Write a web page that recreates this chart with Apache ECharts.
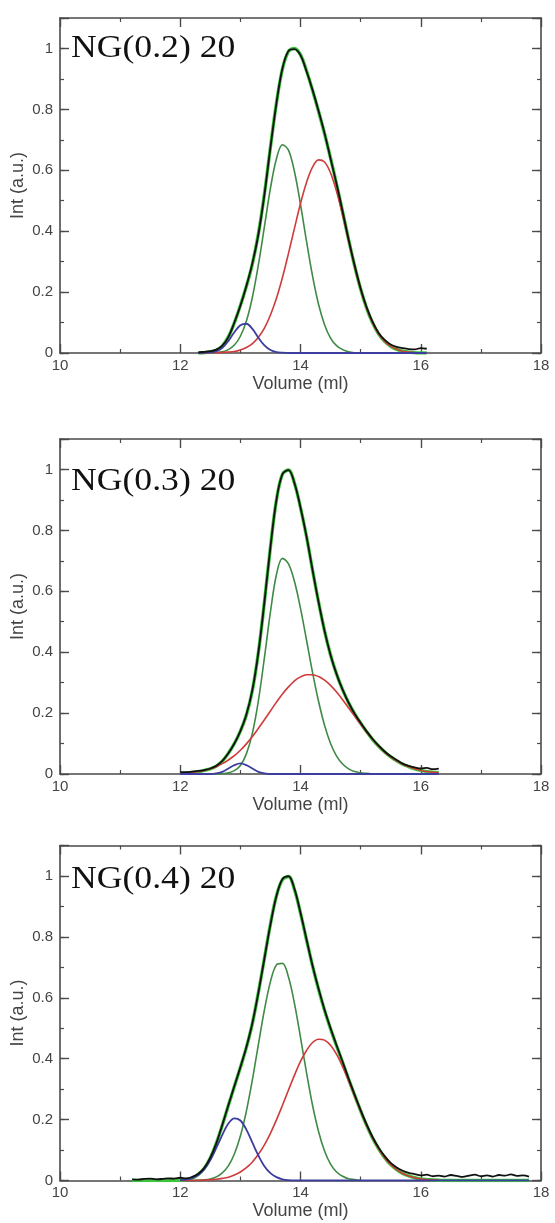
<!DOCTYPE html>
<html><head><meta charset="utf-8">
<script src="https://cdn.jsdelivr.net/npm/echarts@6/dist/echarts.min.js"></script>
<style>html,body{margin:0;padding:0;background:#fff}#c{width:555px;height:1223px}</style>
</head><body><div id="c"></div>
<script>
// ---------- DATA ----------
const panelLabels = ['NG(0.2) 20', 'NG(0.3) 20', 'NG(0.4) 20'];
const xLabelName = 'Volume (ml)';
const yLabelName = 'Int (a.u.)';

// Panel 1 : NG(0.2) 20
const vol1 = [12.3,12.4,12.5,12.6,12.7,12.8,12.9,13.0,13.1,13.2,13.3,13.4,13.5,13.6,13.7,13.8,13.9,14.0,14.1,14.2,14.3,14.4,14.5,14.6,14.7,14.8,14.9,15.0,15.1,15.2,15.3,15.4,15.5,15.6,15.7,15.8,15.9,16.0,16.1];
const data1 = [0.002,0.004,0.006,0.011,0.024,0.052,0.100,0.155,0.220,0.295,0.390,0.520,0.675,0.820,0.935,0.992,0.998,0.978,0.925,0.864,0.795,0.722,0.638,0.555,0.466,0.373,0.288,0.212,0.150,0.102,0.066,0.043,0.028,0.020,0.016,0.013,0.012,0.016,0.014];
const fit1  = [0,0.001,0.004,0.009,0.023,0.053,0.099,0.156,0.219,0.293,0.392,0.522,0.676,0.821,0.933,0.990,1.000,0.979,0.927,0.863,0.794,0.720,0.640,0.554,0.464,0.372,0.286,0.210,0.147,0.098,0.062,0.038,0.022,0.012,0.006,0.003,0.001,0,0];
const blue1 = [0,0.001,0.002,0.006,0.017,0.039,0.068,0.091,0.096,0.079,0.050,0.025,0.010,0.003,0.001,0,0,0,0,0,0,0,0,0,0,0,0,0,0,0,0,0,0,0,0,0,0,0,0];
const green1= [0,0,0.001,0.002,0.004,0.011,0.026,0.055,0.105,0.183,0.290,0.415,0.541,0.638,0.684,0.666,0.595,0.488,0.367,0.253,0.160,0.093,0.049,0.024,0.011,0.004,0.001,0,null,null,null,null,null,null,null,null,null,null,null];
const red1  = [0,0,0.001,0.001,0.002,0.003,0.005,0.010,0.018,0.031,0.052,0.082,0.125,0.180,0.248,0.327,0.410,0.491,0.560,0.610,0.634,0.627,0.591,0.530,0.453,0.368,0.285,0.210,0.147,0.098,0.062,0.038,0.022,0.012,0.006,0.003,0.001,0,0];

// Panel 2 : NG(0.3) 20
const vol2 = [12.0,12.1,12.2,12.3,12.4,12.5,12.6,12.7,12.8,12.9,13.0,13.1,13.2,13.3,13.4,13.5,13.6,13.7,13.8,13.9,14.0,14.1,14.2,14.3,14.4,14.5,14.6,14.7,14.8,14.9,15.0,15.1,15.2,15.3,15.4,15.5,15.6,15.7,15.8,15.9,16.0,16.1,16.2,16.3];
const data2 = [0.006,0.006,0.008,0.010,0.013,0.018,0.027,0.043,0.068,0.100,0.141,0.195,0.276,0.400,0.565,0.745,0.900,0.985,0.998,0.955,0.875,0.780,0.670,0.565,0.470,0.391,0.328,0.277,0.234,0.198,0.168,0.140,0.115,0.093,0.074,0.058,0.046,0.034,0.027,0.022,0.018,0.020,0.016,0.018];
const fit2  = [0.002,0.003,0.005,0.008,0.012,0.017,0.026,0.042,0.068,0.100,0.141,0.194,0.275,0.400,0.565,0.745,0.900,0.985,0.998,0.955,0.875,0.780,0.670,0.565,0.470,0.391,0.328,0.277,0.234,0.198,0.167,0.139,0.113,0.091,0.072,0.056,0.043,0.032,0.024,0.017,0.012,0.008,0.006,0.004];
const blue2 = [0,0,0,0,0,0,0.002,0.007,0.018,0.029,0.035,0.029,0.018,0.007,0.002,0,0,0,0,0,0,0,0,0,0,0,0,0,0,0,0,0,0,0,0,0,0,0,0,0,0,0,0,0];
const green2= [0,0,0,0,0,0,0,0.001,0.004,0.011,0.028,0.066,0.134,0.241,0.382,0.532,0.655,0.708,0.690,0.632,0.544,0.440,0.334,0.239,0.160,0.100,0.059,0.033,0.017,0.008,0.004,0.002,0,null,null,null,null,null,null,null,null,null,null,null];
const red2  = [0.002,0.003,0.005,0.008,0.012,0.017,0.024,0.034,0.046,0.060,0.078,0.099,0.123,0.150,0.178,0.207,0.236,0.263,0.286,0.306,0.319,0.326,0.326,0.320,0.308,0.291,0.269,0.244,0.217,0.190,0.163,0.137,0.113,0.091,0.072,0.056,0.043,0.032,0.024,0.017,0.012,0.008,0.006,0.004];

// Panel 3 : NG(0.4) 20
const vol3 = [11.2,11.3,11.4,11.5,11.6,11.7,11.8,11.9,12.0,12.1,12.2,12.3,12.4,12.5,12.6,12.7,12.8,12.9,13.0,13.1,13.2,13.3,13.4,13.5,13.6,13.7,13.8,13.9,14.0,14.1,14.2,14.3,14.4,14.5,14.6,14.7,14.8,14.9,15.0,15.1,15.2,15.3,15.4,15.5,15.6,15.7,15.8,15.9,16.0,16.1,16.2,16.3,16.4,16.5,16.6,16.7,16.8,16.9,17.0,17.1,17.2,17.3,17.4,17.5,17.6,17.7,17.8];
const data3 = [0.004,0.003,0.005,0.006,0.004,0.005,0.007,0.006,0.009,0.007,0.012,0.022,0.042,0.075,0.122,0.183,0.247,0.310,0.372,0.438,0.517,0.617,0.729,0.840,0.934,0.990,0.999,0.957,0.879,0.792,0.706,0.630,0.561,0.500,0.444,0.390,0.335,0.282,0.231,0.184,0.142,0.108,0.080,0.058,0.043,0.032,0.025,0.021,0.017,0.019,0.014,0.016,0.013,0.018,0.015,0.012,0.016,0.019,0.014,0.017,0.013,0.018,0.016,0.020,0.015,0.017,0.013];
const fit3  = [0,0,0,0,0,0,0,0,0.001,0.003,0.008,0.020,0.040,0.074,0.123,0.182,0.246,0.309,0.371,0.437,0.516,0.618,0.730,0.842,0.935,0.988,0.998,0.955,0.878,0.790,0.705,0.628,0.559,0.498,0.442,0.388,0.333,0.280,0.229,0.181,0.139,0.104,0.075,0.052,0.036,0.023,0.015,0.009,0.005,0.003,0.002,0.001,0,0,0,0,0,0,0,0,0,0,0,0,0,0,0];
const blue3 = [null,null,null,null,null,null,null,null,0.001,0.003,0.008,0.018,0.037,0.067,0.107,0.150,0.187,0.204,0.197,0.167,0.124,0.082,0.047,0.024,0.011,0.004,0.001,0,0,0,0,0,0,0,0,0,0,0,0,0,0,0,0,0,0,0,0,0,0,0,0,0,0,0,0,0,0,0,0,0,0,0,0,0,0,0,0];
const green3= [null,null,null,null,null,null,null,null,0,0,0,0.001,0.002,0.005,0.012,0.025,0.048,0.087,0.146,0.228,0.331,0.447,0.560,0.653,0.708,0.713,0.668,0.581,0.470,0.354,0.247,0.161,0.097,0.054,0.028,0.014,0.006,0.003,0,null,null,null,null,null,null,null,null,null,null,null,null,null,null,null,null,null,null,null,null,null,null,null,null,null,null,null,null];
const red3  = [null,null,null,null,null,null,null,null,0,0,0,0.001,0.001,0.002,0.004,0.007,0.011,0.018,0.028,0.042,0.061,0.086,0.117,0.155,0.199,0.247,0.297,0.346,0.391,0.427,0.453,0.464,0.461,0.444,0.414,0.374,0.327,0.277,0.228,0.181,0.139,0.104,0.075,0.052,0.036,0.023,0.015,0.009,0.005,0.003,0.002,0.001,null,null,null,null,null,null,null,null,null,null,null,null,null,null,null];

const panels = [
  {vol: vol1, data: data1, fit: fit1, blue: blue1, green: green1, red: red1},
  {vol: vol2, data: data2, fit: fit2, blue: blue2, green: green2, red: red2},
  {vol: vol3, data: data3, fit: fit3, blue: blue3, green: green3, red: red3}
];

// ---------- LAYOUT / STYLE ----------
const gridTops = [18, 439, 845.5];
const gridH = 335;
const labelTops = [33, 466, 864];
const axisColor = '#4a4a4a';
const sans = 'Liberation Sans';

function yFmt(v) {
  if (v === 0) return '0';
  if (Math.abs(v - 1) < 1e-6) return '1';
  if (v > 1.05) return '';
  return v.toFixed(1);
}

const grids = [], xAxes = [], yAxes = [], series = [], graphics = [];
panels.forEach((p, g) => {
  grids.push({left: 60, right: 14, top: gridTops[g], height: gridH, containLabel: false, outerBoundsMode: 'none'});
  const xBase = {
    gridIndex: g, type: 'value', min: 10, max: 18, interval: 2,
    axisLine: {show: true, onZero: false, lineStyle: {color: axisColor, width: 1.6}},
    axisTick: {show: true, inside: true, length: 9, lineStyle: {color: axisColor, width: 1.4}},
    minorTick: {show: true, splitNumber: 2, length: 4, lineStyle: {color: axisColor, width: 1.2}},
    splitLine: {show: false}, minorSplitLine: {show: false}
  };
  xAxes.push(Object.assign({}, xBase, {
    position: 'bottom',
    axisLabel: {color: '#444', fontSize: 15, margin: 5, fontFamily: sans},
    name: xLabelName, nameLocation: 'middle', nameGap: 22, nameMoveOverlap: false,
    nameTextStyle: {color: '#444', fontSize: 18, fontFamily: sans}
  }));
  xAxes.push(Object.assign({}, xBase, {position: 'top', axisLabel: {show: false}}));

  const yMajor = {
    gridIndex: g, type: 'value', min: 0, max: 1.1, interval: 0.2,
    axisLine: {show: true, onZero: false, lineStyle: {color: axisColor, width: 1.6}},
    axisTick: {show: true, inside: true, length: 9, lineStyle: {color: axisColor, width: 1.4}},
    splitLine: {show: false}
  };
  const yMinor = {
    gridIndex: g, type: 'value', min: 0, max: 1.1, interval: 0.1,
    axisLine: {show: false, onZero: false},
    axisTick: {show: true, inside: true, length: 4, lineStyle: {color: axisColor, width: 1.2}},
    axisLabel: {show: false}, splitLine: {show: false}
  };
  yAxes.push(Object.assign({}, yMajor, {
    position: 'left',
    axisLabel: {color: '#444', fontSize: 15, margin: 7, fontFamily: sans, formatter: yFmt},
    name: yLabelName, nameLocation: 'middle', nameGap: 33, nameMoveOverlap: false,
    nameTextStyle: {color: '#444', fontSize: 18, fontFamily: sans}
  }));
  yAxes.push(Object.assign({}, yMinor, {position: 'left'}));
  yAxes.push(Object.assign({}, yMajor, {position: 'right', axisLabel: {show: false}}));
  yAxes.push(Object.assign({}, yMinor, {position: 'right'}));

  const pairs = arr => p.vol.map((x, i) => [x, arr[i]]);
  const mk = (arr, color, width, z) => ({
    type: 'line', xAxisIndex: 2 * g, yAxisIndex: 4 * g, data: pairs(arr),
    showSymbol: false, smooth: 0.35, connectNulls: false, silent: true, z: z,
    lineStyle: {color: color, width: width}
  });
  series.push(mk(p.fit, '#3fc43f', 3.4, 2));
  series.push(mk(p.green, '#3f8a45', 1.6, 3));
  series.push(mk(p.red, '#cf3b3b', 1.6, 4));
  series.push(mk(p.blue, '#3d3da0', 1.8, 5));
  series.push(mk(p.data, '#111111', 1.8, 6));

  graphics.push({
    type: 'text', x: 71, y: labelTops[g], scaleX: 1.15, z: 100,
    style: {text: panelLabels[g], fontFamily: 'Liberation Serif', fontSize: 31, fill: '#111', verticalAlign: 'top'}
  });
});

const chart = echarts.init(document.getElementById('c'), null, {renderer: 'canvas'});
chart.setOption({
  animation: false,
  backgroundColor: '#ffffff',
  grid: grids, xAxis: xAxes, yAxis: yAxes, series: series, graphic: graphics
});
</script></body></html>
